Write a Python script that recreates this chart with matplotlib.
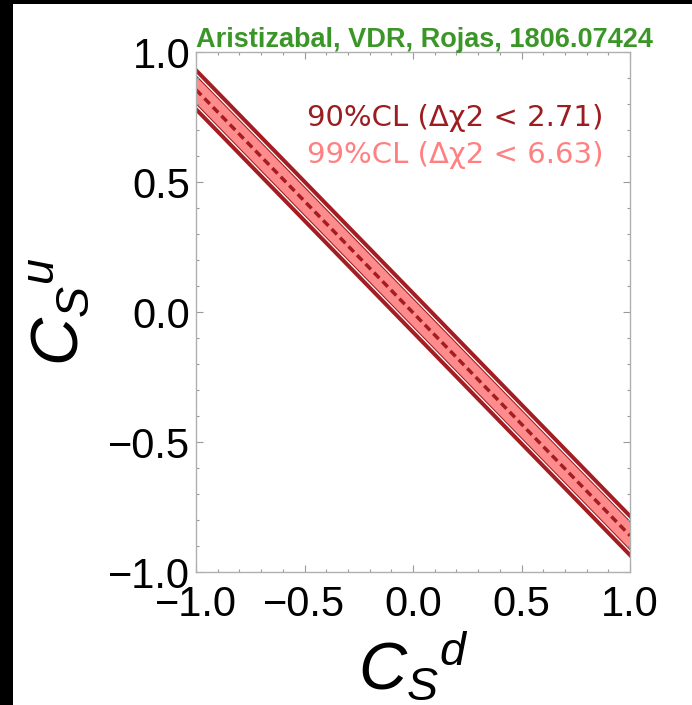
import numpy as np
import matplotlib.pyplot as plt
from matplotlib.patches import Rectangle
from matplotlib.ticker import MultipleLocator

plt.rcParams['font.family'] = ['Liberation Sans', 'DejaVu Sans']
plt.rcParams['mathtext.fontset'] = 'custom'
plt.rcParams['mathtext.rm'] = 'Liberation Sans'
plt.rcParams['mathtext.it'] = 'Liberation Sans:italic'

# best-fit line C_S^u vs C_S^d, read at the two ends of the plot
cs_d = np.array([-1.0, 1.0])
cs_u_center = np.array([0.855, -0.86])
# vertical half-widths of the stripes
half_99 = 0.086
half_gap = 0.064
half_90 = 0.057
half_in = 0.051

title = "Aristizabal, VDR, Rojas, 1806.07424"
leg_90 = "90%CL (Δχ2 < 2.71)"
leg_99 = "99%CL (Δχ2 < 6.63)"
ticks = [-1.0, -0.5, 0.0, 0.5, 1.0]
tick_labels = ["\u22121.0", "\u22120.5", "0.0", "0.5", "1.0"]

dark = '#a31d22'
pink = '#ff8c8c'

fig = plt.figure(figsize=(6.92, 7.05), dpi=100, facecolor='black')
fig.patches.append(Rectangle((13 / 692, 0), 1, 701 / 705, transform=fig.transFigure,
                             facecolor='white', edgecolor='none', zorder=-10))
ax = fig.add_axes([196 / 692, 1 - 572 / 705, 434 / 692, 520 / 705])

ax.fill_between(cs_d, cs_u_center - half_99, cs_u_center + half_99, color=dark, lw=0)
ax.fill_between(cs_d, cs_u_center - half_gap, cs_u_center + half_gap, color='white', lw=0)
ax.fill_between(cs_d, cs_u_center - half_90, cs_u_center + half_90, color=dark, lw=0)
ax.fill_between(cs_d, cs_u_center - half_in, cs_u_center + half_in, color=pink, lw=0)
ax.plot(cs_d, cs_u_center, color=dark, lw=2.5, dashes=(2.2, 1.3))

ax.set_xlim(-1, 1)
ax.set_ylim(-1, 1)
ax.set_xticks(ticks)
ax.set_yticks(ticks)
ax.set_xticklabels(tick_labels)
ax.set_yticklabels(tick_labels)
ax.xaxis.set_minor_locator(MultipleLocator(0.1))
ax.yaxis.set_minor_locator(MultipleLocator(0.1))
ax.tick_params(which='both', direction='in', top=True, right=True, color='#999999',
               labelsize=30)
ax.tick_params(axis='x', pad=9)
ax.tick_params(axis='y', pad=4)
ax.tick_params(which='major', length=5, width=0.8)
ax.tick_params(which='minor', length=2.5, width=0.8)
for s in ax.spines.values():
    s.set_color('#b0b0b0')
    s.set_linewidth(1)

ax.set_xlabel(r'$C_S{}^d$', fontsize=48, labelpad=4)
ax.set_ylabel(r'$C_S{}^u$', fontsize=48, labelpad=12)

ax.text(0.0, 1.01, title, transform=ax.transAxes, ha='left', va='baseline',
        color='#3a9627', fontsize=19.5, fontweight='bold')
ax.text(0.938, 0.873, leg_90, transform=ax.transAxes, ha='right', va='center',
        color='#9c1c20', fontsize=21, family='DejaVu Sans')
ax.text(0.938, 0.802, leg_99, transform=ax.transAxes, ha='right', va='center',
        color='#ff8080', fontsize=21, family='DejaVu Sans')

fig.savefig('out.png', dpi=100, facecolor='black')
